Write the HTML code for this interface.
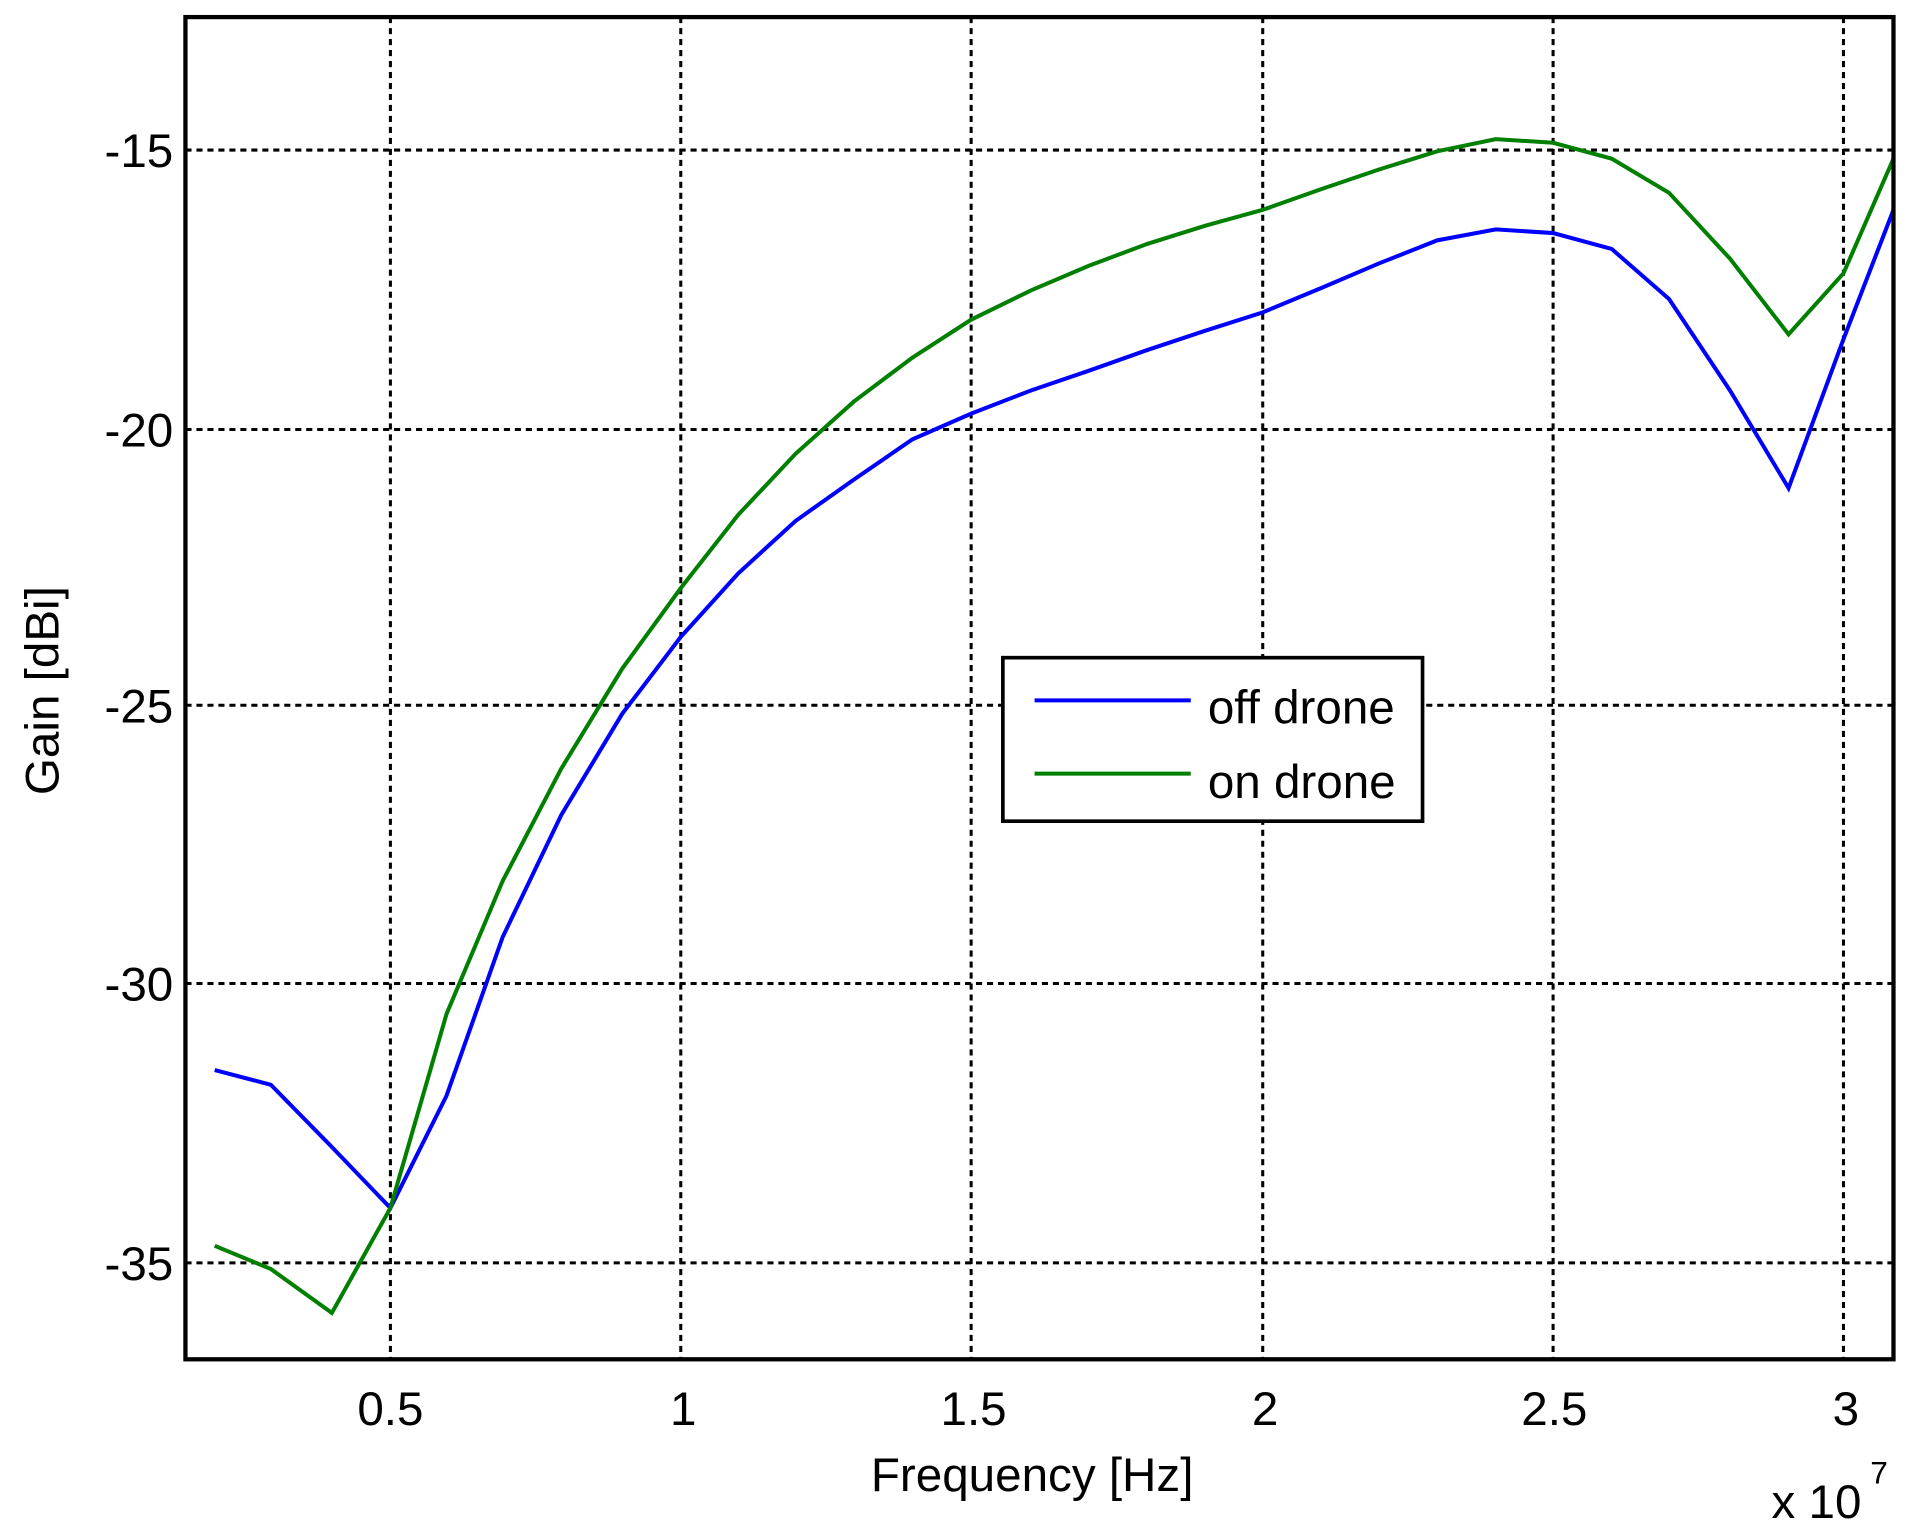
<!DOCTYPE html>
<html><head><meta charset="utf-8"><style>html,body{margin:0;padding:0;background:#fff}svg{display:block}</style></head>
<body>
<svg width="1913" height="1535" viewBox="0 0 1568 1258" preserveAspectRatio="none" xmlns="http://www.w3.org/2000/svg" font-family="Liberation Sans, Arial, sans-serif">
<rect width="1568" height="1258" fill="#fff"/>
<g stroke="#000" stroke-width="2.5" stroke-dasharray="5,4">
<line x1="320" y1="14" x2="320" y2="1114"/>
<line x1="558" y1="14" x2="558" y2="1114"/>
<line x1="796" y1="14" x2="796" y2="1114"/>
<line x1="1035" y1="14" x2="1035" y2="1114"/>
<line x1="1273" y1="14" x2="1273" y2="1114"/>
<line x1="1511" y1="14" x2="1511" y2="1114"/>
<line x1="152" y1="123" x2="1552" y2="123"/>
<line x1="152" y1="352" x2="1552" y2="352"/>
<line x1="152" y1="578" x2="1552" y2="578"/>
<line x1="152" y1="806" x2="1552" y2="806"/>
<line x1="152" y1="1035" x2="1552" y2="1035"/>
</g>
<polyline fill="none" stroke="#0000ff" stroke-width="3.3" points="176,877 222,889 272,940 320,990 366,898 412,768 460,668 510,585 558,522 605,470 652,427 700,393 748,360 796,339 845,320 892,304 940,287 988,271 1035,256 1083,236 1130,216 1178,197 1226,188 1273,191 1321,204 1368,245 1418,320 1466,400 1511,278 1552,172"/>
<polyline fill="none" stroke="#007f00" stroke-width="3.3" points="176,1021 222,1040 272,1076 320,990 366,831 412,722 460,630 510,548 558,482 605,422 652,372 700,329 748,293 796,262 845,238 892,218 940,200 988,185 1035,172 1083,155 1130,139 1178,124 1226,114 1273,117 1321,130 1368,158 1418,212 1466,274 1511,224 1552,130"/>
<rect x="152" y="14" width="1400" height="1100" fill="none" stroke="#000" stroke-width="3.5"/>
<rect x="822" y="539" width="344" height="134" fill="#fff" stroke="#000" stroke-width="3"/>
<line x1="848" y1="574" x2="976" y2="574" stroke="#0000ff" stroke-width="3.3"/>
<line x1="848" y1="634" x2="976" y2="634" stroke="#007f00" stroke-width="3.3"/>
<g font-size="39" fill="#000">
<text x="990" y="593">off drone</text>
<text x="990" y="654">on drone</text>
<g text-anchor="end">
<text x="142" y="137">-15</text>
<text x="142" y="366">-20</text>
<text x="142" y="592">-25</text>
<text x="142" y="820">-30</text>
<text x="142" y="1049">-35</text>
</g>
<g text-anchor="middle">
<text x="320" y="1168">0.5</text>
<text x="560" y="1168">1</text>
<text x="798" y="1168">1.5</text>
<text x="1037" y="1168">2</text>
<text x="1274" y="1168">2.5</text>
<text x="1513" y="1168">3</text>
<text x="846" y="1222">Frequency [Hz]</text>
<text transform="translate(48,566) rotate(-90)">Gain [dBi]</text>
</g>
<text x="1452" y="1244">x 10</text>
<text x="1533" y="1216" font-size="26">7</text>
</g>
</svg>
</body></html>
